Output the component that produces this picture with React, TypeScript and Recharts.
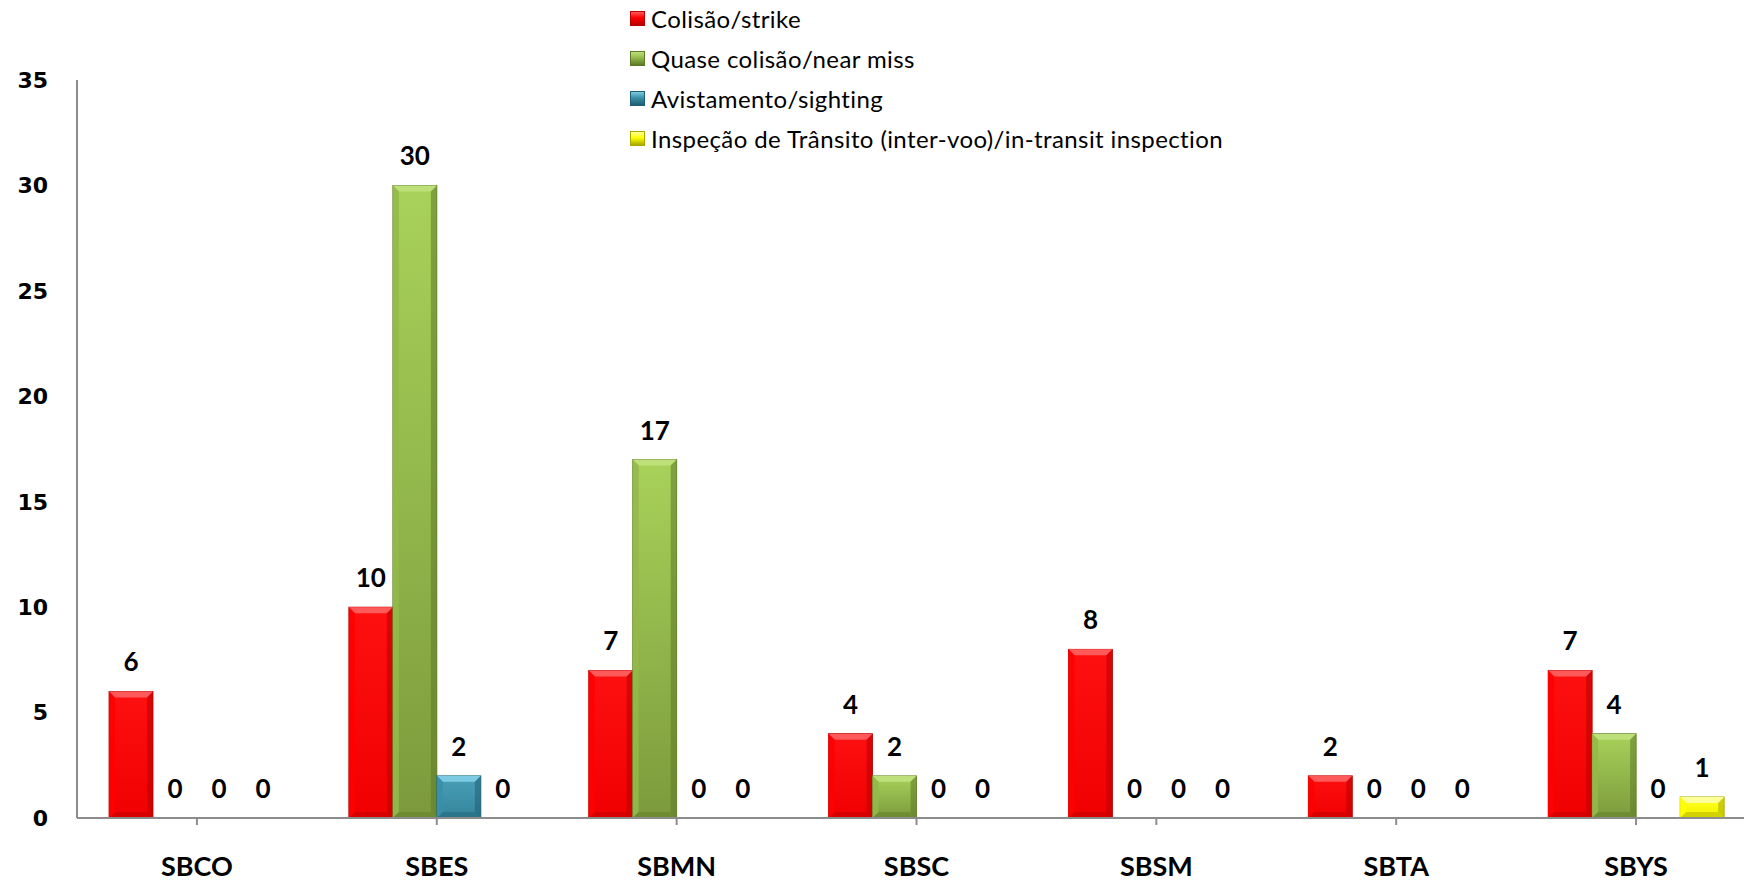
import React from 'react'
import { BarChart, Bar, XAxis, YAxis, LabelList } from 'recharts'

const airports = ['SBCO', 'SBES', 'SBMN', 'SBSC', 'SBSM', 'SBTA', 'SBYS']
const strike = [6, 10, 7, 4, 8, 2, 7]
const nearMiss = [0, 30, 17, 2, 0, 0, 4]
const sighting = [0, 2, 0, 0, 0, 0, 0]
const inspection = [0, 0, 0, 0, 0, 0, 1]
const yTicks = [0, 5, 10, 15, 20, 25, 30, 35]

const series = [
  { key: 'strike', name: 'Colisão/strike', base: '#ff0000', light: '#ff5a5a', dark: '#b80000', top: '#ff1010', bottom: '#f00000' },
  { key: 'nearMiss', name: 'Quase colisão/near miss', base: '#93b94a', light: '#bde07a', dark: '#5d7a26', top: '#a8d25a', bottom: '#7c9a3c' },
  { key: 'sighting', name: 'Avistamento/sighting', base: '#3a8fa8', light: '#7ccbe2', dark: '#1f5f72', top: '#4aa0b8', bottom: '#35859c' },
  { key: 'inspection', name: 'Inspeção de Trânsito (inter-voo)/in-transit inspection', base: '#ffff00', light: '#ffff9a', dark: '#a8a800', top: '#ffff20', bottom: '#f4f400' },
]

const data = airports.map((a, i) => ({
  name: a,
  strike: strike[i],
  nearMiss: nearMiss[i],
  sighting: sighting[i],
  inspection: inspection[i],
}))

const makeShape = (s: typeof series[number]) => (props: any) => {
  const { x, y, width, height } = props
  if (!height || height <= 0) return <g />
  const b = Math.min(6, height / 2, width / 2)
  return (
    <g>
      <rect x={x} y={y} width={width} height={height} fill={`url(#grad-${s.key})`} stroke={s.dark} strokeWidth={0.8} />
      <polygon points={`${x},${y} ${x + width},${y} ${x + width - b},${y + b} ${x + b},${y + b}`} fill={s.light} />
      <polygon points={`${x},${y} ${x + b},${y + b} ${x + b},${y + height - b} ${x},${y + height}`} fill={s.base} opacity={0.9} />
      <polygon points={`${x + width},${y} ${x + width - b},${y + b} ${x + width - b},${y + height - b} ${x + width},${y + height}`} fill={s.dark} opacity={0.55} />
      <polygon points={`${x},${y + height} ${x + b},${y + height - b} ${x + width - b},${y + height - b} ${x + width},${y + height}`} fill={s.dark} opacity={0.45} />
    </g>
  )
}

function LegendBox() {
  return (
    <div style={{ position: 'absolute', left: 630, top: -2, fontFamily: 'Lato, sans-serif', fontSize: 24, letterSpacing: 0.4, color: '#000' }}>
      {series.map((s) => (
        <div key={s.key} style={{ height: 40, display: 'flex', alignItems: 'center' }}>
          <span style={{
            display: 'inline-block', width: 13, height: 13, marginRight: 6,
            background: `linear-gradient(180deg, ${s.light}, ${s.base} 45%, ${s.dark})`,
            border: `1px solid ${s.dark}`,
          }} />
          <span>{s.name}</span>
        </div>
      ))}
    </div>
  )
}

export default function App() {
  return (
    <div style={{ position: 'absolute', left: 0, top: 0, width: 1744, height: 883, overflow: 'hidden', background: '#fff' }}>
      <BarChart
        width={1760}
        height={883}
        data={data}
        margin={{ top: 80, right: 4, left: 0, bottom: 5 }}
        barGap={0}
        barSize={44}
      >
        <defs>
          {series.map((s) => (
            <linearGradient key={s.key} id={`grad-${s.key}`} x1="0" y1="0" x2="0" y2="1">
              <stop offset="0%" stopColor={s.top} />
              <stop offset="100%" stopColor={s.bottom} />
            </linearGradient>
          ))}
        </defs>
        <XAxis
          dataKey="name"
          axisLine={{ stroke: '#8c8c8c', strokeWidth: 2 }}
          tickLine={{ stroke: '#8c8c8c', strokeWidth: 2 }}
          tickSize={7}
          tickMargin={32}
          height={60}
          tick={{ fill: '#000', fontFamily: 'Lato, sans-serif', fontWeight: 700, fontSize: 27 }}
        />
        <YAxis
          domain={[0, 35]}
          ticks={yTicks}
          interval={0}
          width={77}
          axisLine={{ stroke: '#8c8c8c', strokeWidth: 2 }}
          tickLine={false}
          tickSize={0}
          tickMargin={29}
          tick={{ fill: '#000', fontFamily: 'DejaVu Sans, sans-serif', fontWeight: 700, fontSize: 22 }}
        />
        {series.map((s) => (
          <Bar key={s.key} dataKey={s.key} name={s.name} fill={s.base} shape={makeShape(s)} isAnimationActive={false}>
            <LabelList dataKey={s.key} position="top" offset={20} fill="#000" fontFamily="Lato, sans-serif" fontWeight={700} fontSize={26} />
          </Bar>
        ))}
      </BarChart>
      <LegendBox />
    </div>
  )
}
